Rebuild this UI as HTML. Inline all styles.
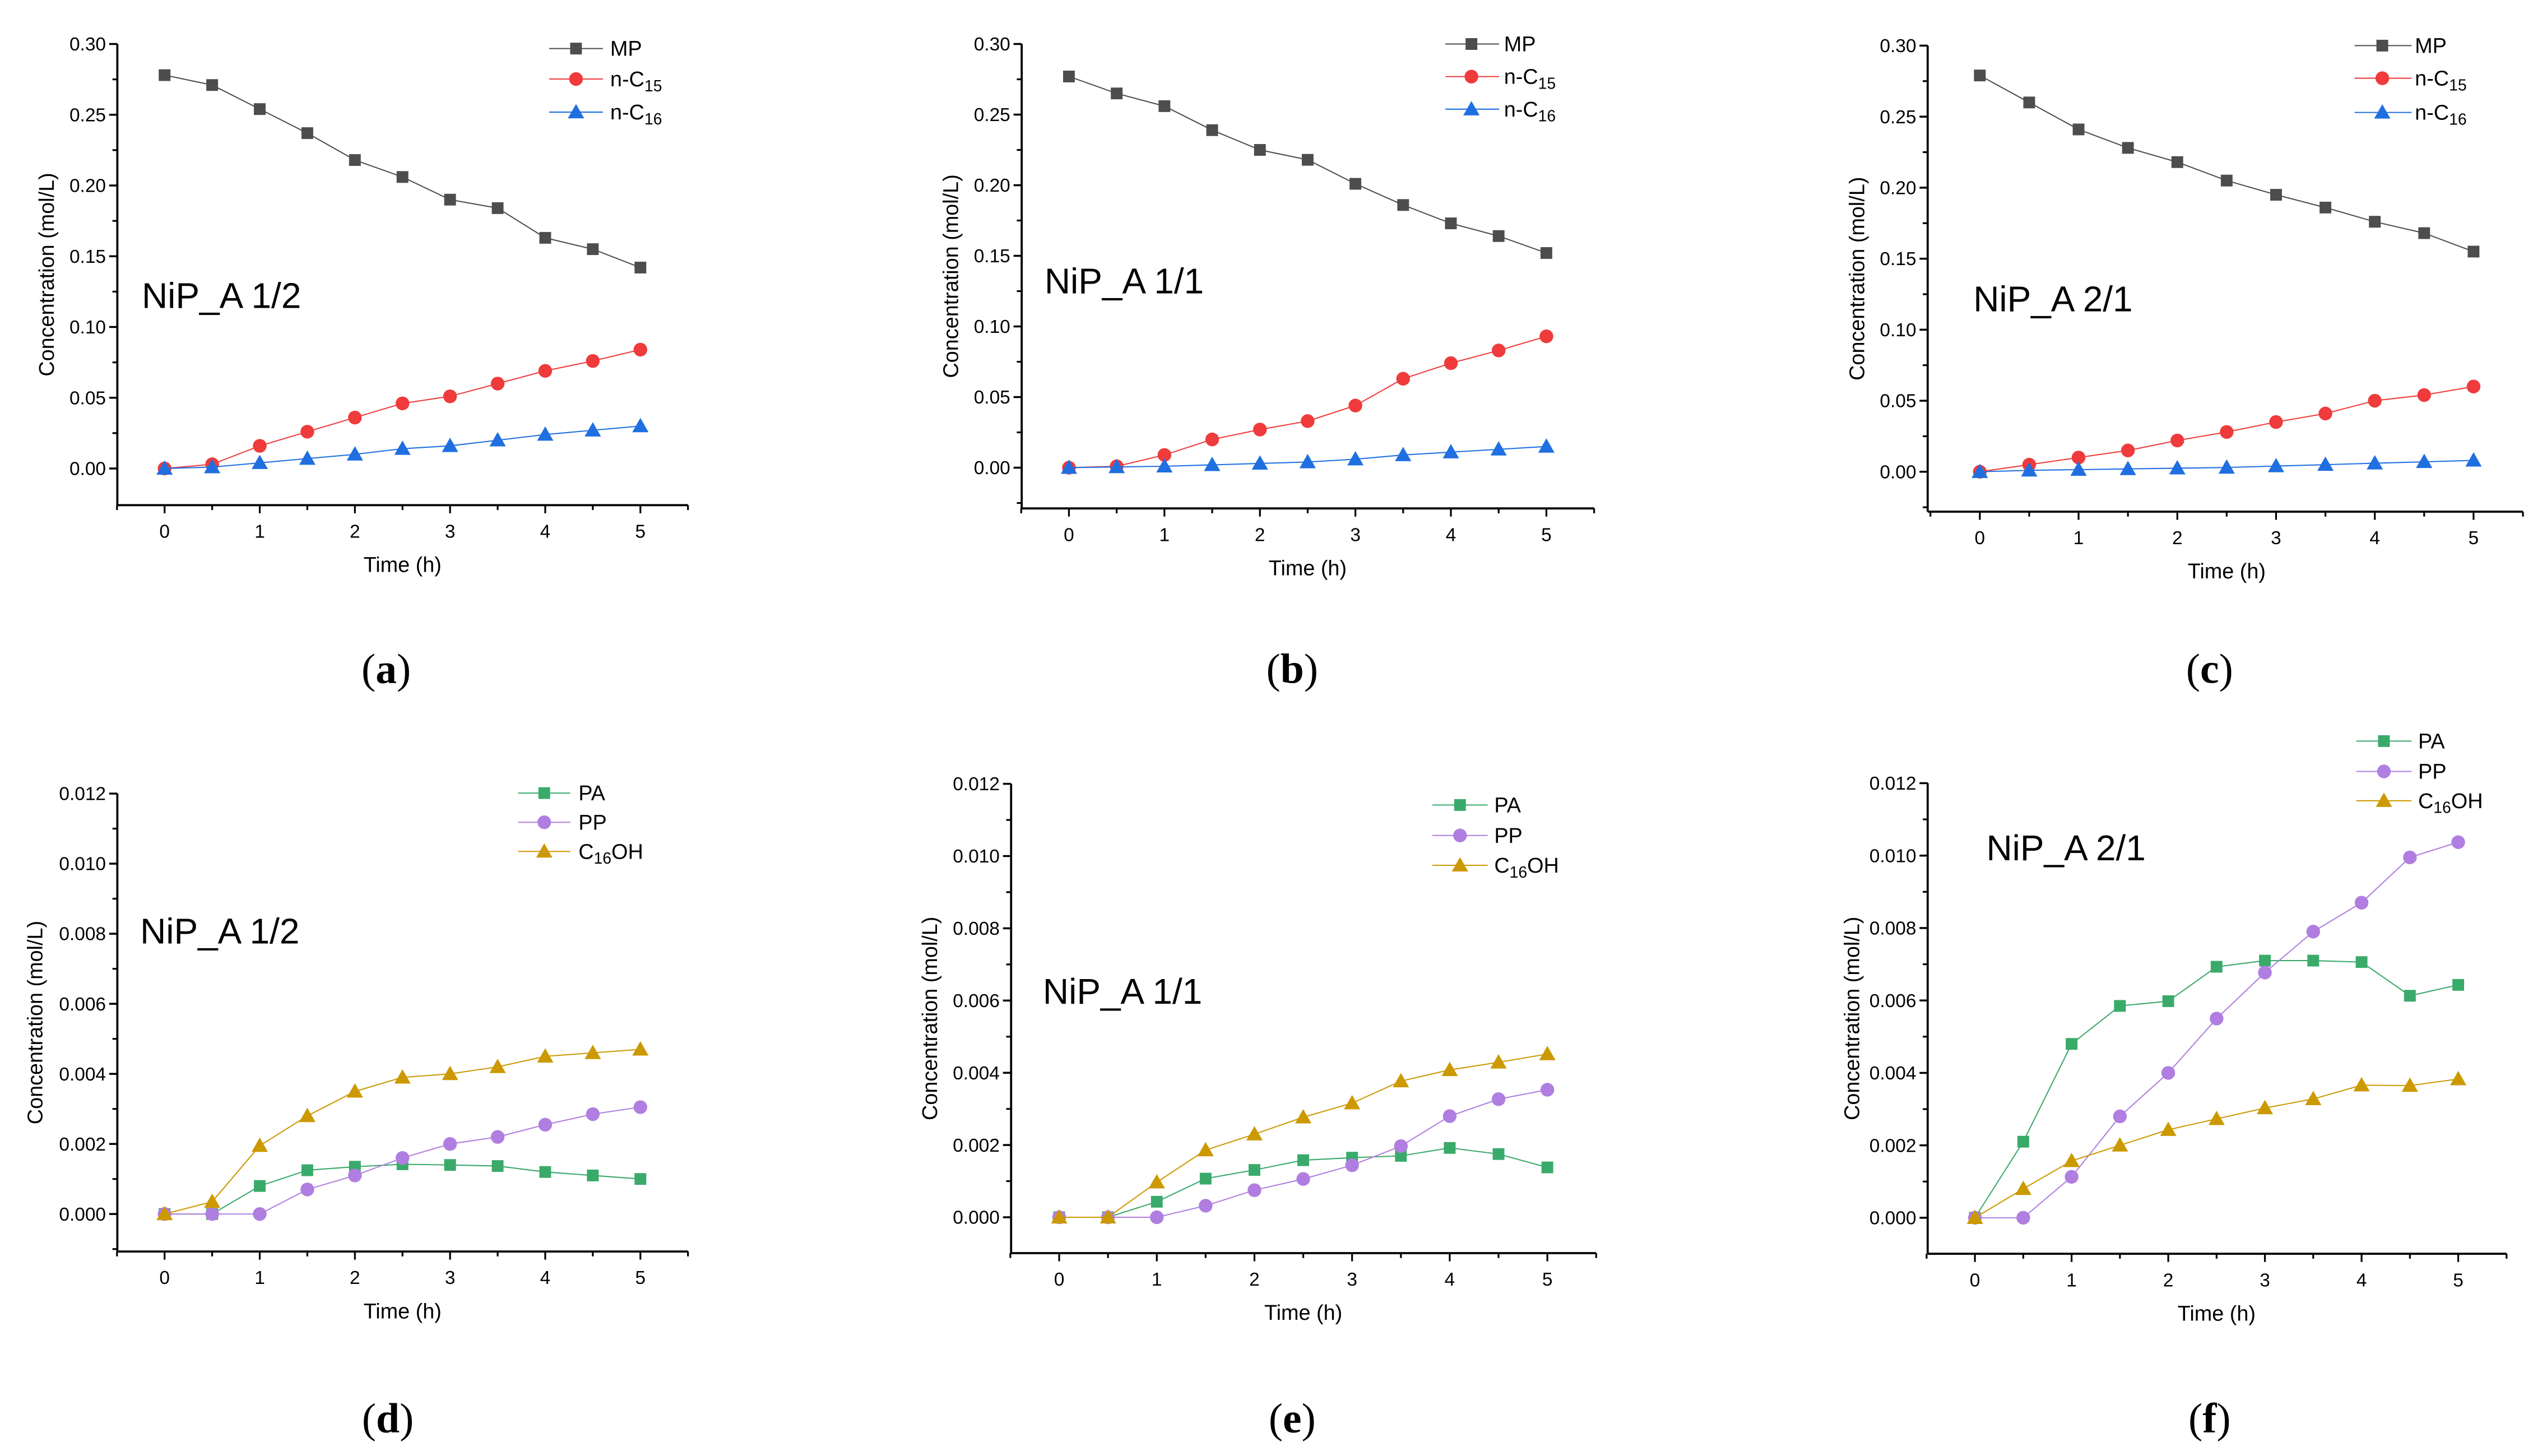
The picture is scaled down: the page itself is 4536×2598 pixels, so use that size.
<!DOCTYPE html>
<html><head><meta charset="utf-8"><style>
html,body{margin:0;padding:0;background:#fff;}
svg{display:block;font-family:"Liberation Sans",Arial,sans-serif;}
</style></head><body>
<svg id="fig" width="4536" height="2598" viewBox="0 0 1560 893.5" xmlns="http://www.w3.org/2000/svg"></svg>
<script>
const timeCats=[0,0.5,1,1.5,2,2.5,3,3.5,4,4.5,5];
const xTickLabels=["0","1","2","3","4","5"];
const yTicksTop=["0.00","0.05","0.10","0.15","0.20","0.25","0.30"];
const yTicksBot=["0.000","0.002","0.004","0.006","0.008","0.010","0.012"];
const seriesNamesTop=["MP","n-C15","n-C16"];
const seriesNamesBot=["PA","PP","C16OH"];
const aMP=[.278,.271,.254,.237,.218,.206,.190,.184,.163,.155,.142];
const aC15=[0,.003,.016,.026,.036,.046,.051,.060,.069,.076,.084];
const aC16=[0,.001,.004,.007,.010,.014,.016,.020,.024,.027,.030];
const bMP=[.277,.265,.256,.239,.225,.218,.201,.186,.173,.164,.152];
const bC15=[0,.001,.009,.020,.027,.033,.044,.063,.074,.083,.093];
const bC16=[0,.0005,.001,.002,.003,.004,.006,.009,.011,.013,.015];
const cMP=[.279,.260,.241,.228,.218,.205,.195,.186,.176,.168,.155];
const cC15=[0,.005,.010,.015,.022,.028,.035,.041,.050,.054,.060];
const cC16=[0,.001,.0015,.002,.0025,.003,.004,.005,.006,.007,.008];
const dPA=[0,0,.0008,.00125,.00135,.00142,.0014,.00137,.0012,.0011,.001];
const dPP=[0,0,0,.0007,.0011,.0016,.002,.0022,.00255,.00285,.00305];
const dOH=[0,.00035,.00195,.0028,.0035,.0039,.004,.0042,.0045,.0046,.0047];
const ePA=[0,0,.00043,.00107,.00131,.00158,.00165,.0017,.00192,.00175,.00138];
const ePP=[0,0,0,.00032,.00075,.00106,.00144,.00197,.0028,.00327,.00353];
const eOH=[0,0,.00097,.00186,.0023,.00277,.00316,.00377,.00408,.00429,.00452];
const fPA=[0,.0021,.0048,.00585,.00598,.00693,.0071,.0071,.00706,.00613,.00643];
const fPP=[0,0,.00113,.0028,.004,.0055,.00677,.0079,.0087,.00995,.01037];
const fOH=[0,.0008,.00157,.002,.00243,.00273,.00303,.00328,.00366,.00365,.00383];

const NS="http://www.w3.org/2000/svg";
const svg=document.getElementById('fig');
function mk(tag,attrs,parent){const e=document.createElementNS(NS,tag);for(const k in attrs)e.setAttribute(k,attrs[k]);(parent||svg).appendChild(e);return e;}

const panels=[
 {id:'a',ax:72,top:27,zero:287.5,bot:310,x0:101,x5:393,ymax:0.30,ticks:yTicksTop,step:0.05,series:[aMP,aC15,aC16],top3:true,leg:[337,370,353.5,374.5,[29.8,48.5,68.8]],ann:[87,189,'NiP_A 1/2'],ytx:29,cap:[237,410,'a']},
 {id:'b',ax:627,top:27,zero:287,bot:312,x0:656,x5:949,ymax:0.30,ticks:yTicksTop,step:0.05,series:[bMP,bC15,bC16],top3:true,leg:[887,920,903,923,[27,47,67]],ann:[641,180,'NiP_A 1/1'],ytx:584,cap:[793,410,'b']},
 {id:'c',ax:1183,top:28,zero:289.5,bot:314,x0:1215,x5:1518,ymax:0.30,ticks:yTicksTop,step:0.05,series:[cMP,cC15,cC16],top3:true,leg:[1445,1480,1462,1482,[28,48,69]],ann:[1211,191,'NiP_A 2/1'],ytx:1140,cap:[1356,410,'c']},
 {id:'d',ax:72,top:487,zero:745,bot:768,x0:101,x5:393,ymax:0.012,ticks:yTicksBot,step:0.002,series:[dPA,dPP,dOH],top3:false,leg:[318,350,334,355,[486.7,504.6,522.5]],ann:[86,579,'NiP_A 1/2'],ytx:22,cap:[238,870,'d']},
 {id:'e',ax:620.5,top:481,zero:747,bot:769,x0:650,x5:949.6,ymax:0.012,ticks:yTicksBot,step:0.002,series:[ePA,ePP,eOH],top3:false,leg:[879,913,896,917,[494,512.7,531]],ann:[640,616,'NiP_A 1/1'],ytx:571,cap:[793,870,'e']},
 {id:'f',ax:1183,top:480.6,zero:747.3,bot:769.4,x0:1212,x5:1508.6,ymax:0.012,ticks:yTicksBot,step:0.002,series:[fPA,fPP,fOH],top3:false,leg:[1446,1480,1463,1484,[454.8,473.4,491.4]],ann:[1219,528,'NiP_A 2/1'],ytx:1137,cap:[1356,870,'f']}
];
const topStyles=[{c:'#4d4d4d',m:'sq'},{c:'#ef3b3b',m:'ci'},{c:'#1f6fe0',m:'tr'}];
const botStyles=[{c:'#3aaa6a',m:'sq'},{c:'#b07ee0',m:'ci'},{c:'#cc9900',m:'tr'}];

function marker(g,type,x,y,c){
  if(type==='sq') mk('rect',{x:x-3.6,y:y-3.6,width:7.2,height:7.2,fill:c},g);
  else if(type==='ci') mk('circle',{cx:x,cy:y,r:4.2,fill:c},g);
  else mk('polygon',{points:`${x},${y-5} ${x-5},${y+3.8} ${x+5},${y+3.8}`,fill:c},g);
}
function label(g,parts,x,y,size){
  const t=mk('text',{x:x,y:y,'font-size':size,fill:'#000'},g);
  parts.forEach(p=>{const s=mk('tspan',p.sub?{'font-size':size*0.75,dy:3}:(p.up?{dy:-3}:{}),t);s.textContent=p.t;});
  return t;
}
function legendParts(name){
  if(name==='n-C15')return [{t:'n-C'},{t:'15',sub:true}];
  if(name==='n-C16')return [{t:'n-C'},{t:'16',sub:true}];
  if(name==='C16OH')return [{t:'C'},{t:'16',sub:true},{t:'OH',up:true}];
  return [{t:name}];
}

panels.forEach(p=>{
  const g=mk('g',{});
  
  
  const unit=(p.x5-p.x0)/5;
  const X=v=>p.x0+v*unit;
  const Y=v=>p.zero-(p.zero-p.top)*v/p.ymax;
  const left=X(-0.5), right=X(5.5);
  // axes
  const ya=mk('line',{x1:p.ax,y1:p.top,x2:p.ax,y2:p.bot,stroke:'#000','stroke-width':1.3},g);
  
  
  const xa=mk('line',{x1:p.ax,y1:p.bot,x2:right,y2:p.bot,stroke:'#000','stroke-width':1.3},g);
  
  
  // y ticks
  p.ticks.forEach((lab,i)=>{
    const v=i*p.step, y=Y(v);
    mk('line',{x1:p.ax-5,y1:y,x2:p.ax,y2:y,stroke:'#000','stroke-width':1.2},g);
    const t=mk('text',{x:p.ax-7,y:y+4,'font-size':11.5,'text-anchor':'end'},g);
    
    
    t.textContent=lab;
    if(i<p.ticks.length-1){const ym=Y(v+p.step/2);mk('line',{x1:p.ax-3,y1:ym,x2:p.ax,y2:ym,stroke:'#000','stroke-width':1.1},g);}
  });
  const yneg=Y(-p.step/2); if(yneg<p.bot-1) mk('line',{x1:p.ax-3,y1:yneg,x2:p.ax,y2:yneg,stroke:'#000','stroke-width':1.1},g);
  // x ticks
  for(let k=-1;k<=11;k++){
    const v=k/2, x=X(v), major=(k%2===0&&k>=0);
    mk('line',{x1:x,y1:p.bot,x2:x,y2:p.bot+(major?5:3),stroke:'#000','stroke-width':1.1},g);
  }
  xTickLabels.forEach((lab,i)=>{
    const t=mk('text',{x:X(i),y:p.bot+20,'font-size':11.5,'text-anchor':'middle'},g);
    
    
    t.textContent=lab;
  });
  const xt=mk('text',{x:(left+right)/2,y:p.bot+41,'font-size':13,'text-anchor':'middle'},g);
  
  
  xt.textContent='Time (h)';
  const ymid=(p.top+p.bot)/2;
  const yt=mk('text',{x:p.ytx,y:ymid,'font-size':13,'text-anchor':'middle',transform:`rotate(-90 ${p.ytx} ${ymid})`,dy:4},g);
  
  
  yt.textContent='Concentration (mol/L)';
  // series
  const styles=p.top3?topStyles:botStyles, names=p.top3?seriesNamesTop:seriesNamesBot;
  p.series.forEach((vals,si)=>{
    const st=styles[si];
    const sg=mk('g',{},g);
    
    
    const pts=vals.map((v,i)=>X(timeCats[i])+','+Y(v)).join(' ');
    mk('polyline',{points:pts,fill:'none',stroke:st.c,'stroke-width':0.7},sg);
    vals.forEach((v,i)=>marker(sg,st.m,X(timeCats[i]),Y(v),st.c));
  });
  // legend
  const lg=mk('g',{},g);
  
  
  names.forEach((n,i)=>{
    const y=p.leg[4][i], st=styles[i];
    const eg=mk('g',{},lg);
    
    
    mk('line',{x1:p.leg[0],y1:y,x2:p.leg[1],y2:y,stroke:st.c,'stroke-width':0.7},eg);
    marker(eg,st.m,p.leg[2],y,st.c);
    label(eg,legendParts(n),p.leg[3],y+4.5,13);
  });
  const an=mk('text',{x:p.ann[0],y:p.ann[1],'font-size':22},g);
  
  
  an.textContent=p.ann[2];
  const cap=mk('text',{x:p.cap[0],y:p.cap[1]+9,'font-size':26,'text-anchor':'middle','font-family':'Liberation Serif, serif'},svg);
  
  
  cap.appendChild(document.createTextNode('('));
  const b=mk('tspan',{'font-weight':'bold'},cap); b.textContent=p.cap[2];
  cap.appendChild(document.createTextNode(')'));
});
</script>
</body></html>
